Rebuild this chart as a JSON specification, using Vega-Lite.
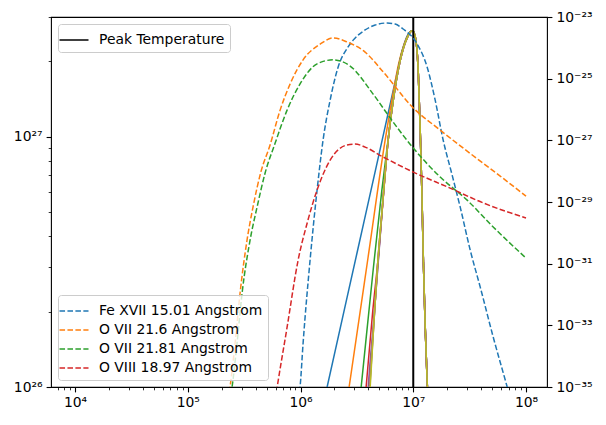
{
  "$schema": "https://vega.github.io/schema/vega-lite/v6.json",
  "width": 496,
  "height": 370,
  "autosize": {"type": "none"},
  "padding": {"left": 51, "top": 17, "right": 59, "bottom": 38},
  "background": "white",
  "config": {
    "view": {"stroke": "black", "strokeWidth": 1.1},
    "font": "DejaVu Sans",
    "axis": {"grid": false, "domain": false, "tickColor": "black", "labelColor": "black", "labelFont": "DejaVu Sans", "labelFontSize": 13.9, "labelPadding": 4, "title": null, "labelOverlap": false},
    "legend": {"labelFont": "DejaVu Sans", "labelFontSize": 13.9, "labelColor": "black", "labelLimit": 300, "strokeColor": "#cccccc", "fillColor": "rgba(255,255,255,0.8)", "cornerRadius": 3, "padding": 5, "offset": 7, "symbolType": "M-1.45,0L1.45,0", "symbolSize": 400, "symbolStrokeWidth": 1.5, "labelOffset": 14, "rowPadding": 1}
  },
  "datasets": {
    "dem": [
      {"c":"c1","T":1.585e6,"D":8.45e25},{"c":"c1","T":1.722e6,"D":1e26},{"c":"c1","T":3.162e6,"D":3.412e26},{"c":"c1","T":5.012e6,"D":8.65e26},{"c":"c1","T":6.310e6,"D":1.377e27},{"c":"c1","T":7.244e6,"D":1.820e27},{"c":"c1","T":8.128e6,"D":2.265e27},{"c":"c1","T":8.913e6,"D":2.541e27},
      {"c":"c1","T":9.772e6,"D":2.642e27},{"c":"c1","T":1.0e7,"D":2.630e27},{"c":"c1","T":1.0715e7,"D":2.291e27},{"c":"c1","T":1.109e7,"D":1.778e27},{"c":"c1","T":1.148e7,"D":1.122e27},{"c":"c1","T":1.189e7,"D":6.310e26},{"c":"c1","T":1.230e7,"D":3.162e26},{"c":"c1","T":1.274e7,"D":1.778e26},{"c":"c1","T":1.334e7,"D":1.0e26},{"c":"c1","T":1.396e7,"D":5.012e25},
      {"c":"c2","T":2.512e6,"D":8.04e25},{"c":"c2","T":2.698e6,"D":1e26},{"c":"c2","T":3.981e6,"D":3.311e26},{"c":"c2","T":5.623e6,"D":9.62e26},{"c":"c2","T":6.607e6,"D":1.479e27},{"c":"c2","T":7.413e6,"D":1.950e27},{"c":"c2","T":8.318e6,"D":2.344e27},{"c":"c2","T":9.120e6,"D":2.570e27},
      {"c":"c2","T":9.772e6,"D":2.642e27},{"c":"c2","T":1.0e7,"D":2.630e27},{"c":"c2","T":1.0715e7,"D":2.291e27},{"c":"c2","T":1.109e7,"D":1.778e27},{"c":"c2","T":1.148e7,"D":1.122e27},{"c":"c2","T":1.189e7,"D":6.310e26},{"c":"c2","T":1.230e7,"D":3.162e26},{"c":"c2","T":1.274e7,"D":1.778e26},{"c":"c2","T":1.334e7,"D":1.0e26},{"c":"c2","T":1.396e7,"D":5.012e25},
      {"c":"c3","T":3.273e6,"D":7.94e25},{"c":"c3","T":3.451e6,"D":1e26},{"c":"c3","T":4.406e6,"D":2.924e26},{"c":"c3","T":5.248e6,"D":6.026e26},{"c":"c3","T":6.026e6,"D":1e27},{"c":"c3","T":6.761e6,"D":1.479e27},{"c":"c3","T":7.586e6,"D":1.995e27},{"c":"c3","T":8.710e6,"D":2.455e27},
      {"c":"c3","T":9.772e6,"D":2.642e27},{"c":"c3","T":1.0e7,"D":2.630e27},{"c":"c3","T":1.0715e7,"D":2.291e27},{"c":"c3","T":1.109e7,"D":1.778e27},{"c":"c3","T":1.148e7,"D":1.122e27},{"c":"c3","T":1.189e7,"D":6.310e26},{"c":"c3","T":1.230e7,"D":3.162e26},{"c":"c3","T":1.274e7,"D":1.778e26},{"c":"c3","T":1.334e7,"D":1.0e26},{"c":"c3","T":1.396e7,"D":5.012e25},
      {"c":"c4","T":3.631e6,"D":7.76e25},{"c":"c4","T":3.819e6,"D":1e26},{"c":"c4","T":4.365e6,"D":1.995e26},{"c":"c4","T":4.898e6,"D":3.311e26},{"c":"c4","T":5.495e6,"D":6.166e26},{"c":"c4","T":5.984e6,"D":9.638e26},{"c":"c4","T":6.637e6,"D":1.390e27},{"c":"c4","T":7.656e6,"D":2.009e27},{"c":"c4","T":8.831e6,"D":2.477e27},
      {"c":"c4","T":9.772e6,"D":2.642e27},{"c":"c4","T":1.0e7,"D":2.630e27},{"c":"c4","T":1.0715e7,"D":2.291e27},{"c":"c4","T":1.109e7,"D":1.778e27},{"c":"c4","T":1.148e7,"D":1.122e27},{"c":"c4","T":1.189e7,"D":6.310e26},{"c":"c4","T":1.230e7,"D":3.162e26},{"c":"c4","T":1.274e7,"D":1.778e26},{"c":"c4","T":1.334e7,"D":1.0e26},{"c":"c4","T":1.396e7,"D":5.012e25},
      {"c":"c5","T":3.846e6,"D":7.76e25},{"c":"c5","T":3.981e6,"D":1e26},{"c":"c5","T":4.467e6,"D":1.862e26},{"c":"c5","T":4.898e6,"D":3.162e26},{"c":"c5","T":5.370e6,"D":5.495e26},{"c":"c5","T":5.984e6,"D":9.638e26},{"c":"c5","T":6.637e6,"D":1.390e27},{"c":"c5","T":7.656e6,"D":2.009e27},{"c":"c5","T":8.831e6,"D":2.477e27},
      {"c":"c5","T":9.772e6,"D":2.642e27},{"c":"c5","T":1.0e7,"D":2.630e27},{"c":"c5","T":1.0715e7,"D":2.291e27},{"c":"c5","T":1.109e7,"D":1.778e27},{"c":"c5","T":1.148e7,"D":1.122e27},{"c":"c5","T":1.189e7,"D":6.310e26},{"c":"c5","T":1.230e7,"D":3.162e26},{"c":"c5","T":1.274e7,"D":1.778e26},{"c":"c5","T":1.334e7,"D":1.0e26},{"c":"c5","T":1.396e7,"D":5.012e25},
      {"c":"c6","T":3.908e6,"D":7.76e25},{"c":"c6","T":4.046e6,"D":1e26},{"c":"c6","T":4.467e6,"D":1.820e26},{"c":"c6","T":4.842e6,"D":3.020e26},{"c":"c6","T":5.370e6,"D":5.495e26},{"c":"c6","T":5.984e6,"D":9.638e26},{"c":"c6","T":6.637e6,"D":1.390e27},{"c":"c6","T":7.656e6,"D":2.009e27},{"c":"c6","T":8.831e6,"D":2.477e27},
      {"c":"c6","T":9.772e6,"D":2.642e27},{"c":"c6","T":1.0e7,"D":2.630e27},{"c":"c6","T":1.0715e7,"D":2.291e27},{"c":"c6","T":1.109e7,"D":1.778e27},{"c":"c6","T":1.148e7,"D":1.122e27},{"c":"c6","T":1.189e7,"D":6.310e26},{"c":"c6","T":1.230e7,"D":3.162e26},{"c":"c6","T":1.274e7,"D":1.778e26},{"c":"c6","T":1.334e7,"D":1.0e26},{"c":"c6","T":1.396e7,"D":5.012e25},
      {"c":"c7","T":3.954e6,"D":7.76e25},{"c":"c7","T":4.093e6,"D":1e26},{"c":"c7","T":4.467e6,"D":1.778e26},{"c":"c7","T":4.786e6,"D":2.924e26},{"c":"c7","T":5.370e6,"D":5.495e26},{"c":"c7","T":5.984e6,"D":9.638e26},{"c":"c7","T":6.637e6,"D":1.390e27},{"c":"c7","T":7.656e6,"D":2.009e27},{"c":"c7","T":8.831e6,"D":2.477e27},
      {"c":"c7","T":9.772e6,"D":2.642e27},{"c":"c7","T":1.0e7,"D":2.630e27},{"c":"c7","T":1.0715e7,"D":2.291e27},{"c":"c7","T":1.109e7,"D":1.778e27},{"c":"c7","T":1.148e7,"D":1.122e27},{"c":"c7","T":1.189e7,"D":6.310e26},{"c":"c7","T":1.230e7,"D":3.162e26},{"c":"c7","T":1.274e7,"D":1.778e26},{"c":"c7","T":1.334e7,"D":1.0e26},{"c":"c7","T":1.396e7,"D":5.012e25},
      {"c":"c8","T":3.981e6,"D":7.76e25},{"c":"c8","T":4.121e6,"D":1e26},{"c":"c8","T":4.467e6,"D":1.778e26},{"c":"c8","T":4.786e6,"D":2.924e26},{"c":"c8","T":5.370e6,"D":5.495e26},{"c":"c8","T":5.984e6,"D":9.638e26},{"c":"c8","T":6.637e6,"D":1.390e27},{"c":"c8","T":7.656e6,"D":2.009e27},{"c":"c8","T":8.831e6,"D":2.477e27},
      {"c":"c8","T":9.772e6,"D":2.642e27},{"c":"c8","T":1.0e7,"D":2.630e27},{"c":"c8","T":1.0715e7,"D":2.291e27},{"c":"c8","T":1.109e7,"D":1.778e27},{"c":"c8","T":1.148e7,"D":1.122e27},{"c":"c8","T":1.189e7,"D":6.310e26},{"c":"c8","T":1.230e7,"D":3.162e26},{"c":"c8","T":1.274e7,"D":1.778e26},{"c":"c8","T":1.334e7,"D":1.0e26},{"c":"c8","T":1.396e7,"D":5.012e25},
      {"c":"c9","T":3.981e6,"D":7.33e25},{"c":"c9","T":4.150e6,"D":1e26},{"c":"c9","T":4.467e6,"D":1.778e26},{"c":"c9","T":4.786e6,"D":2.924e26},{"c":"c9","T":5.370e6,"D":5.495e26},{"c":"c9","T":5.984e6,"D":9.638e26},{"c":"c9","T":6.637e6,"D":1.390e27},{"c":"c9","T":7.656e6,"D":2.009e27},{"c":"c9","T":8.831e6,"D":2.477e27},
      {"c":"c9","T":9.772e6,"D":2.642e27},{"c":"c9","T":1.0e7,"D":2.630e27},{"c":"c9","T":1.0715e7,"D":2.291e27},{"c":"c9","T":1.109e7,"D":1.778e27},{"c":"c9","T":1.148e7,"D":1.122e27},{"c":"c9","T":1.189e7,"D":6.310e26},{"c":"c9","T":1.230e7,"D":3.162e26},{"c":"c9","T":1.274e7,"D":1.778e26},{"c":"c9","T":1.334e7,"D":1.0e26},{"c":"c9","T":1.396e7,"D":5.012e25}
    ],
    "dashed": [
      {"line":"Fe XVII 15.01 Angstrom","T":9.528e5,"G":3.80e-36},{"line":"Fe XVII 15.01 Angstrom","T":9.908e5,"G":1e-35},{"line":"Fe XVII 15.01 Angstrom","T":1.054e6,"G":2.630e-34},{"line":"Fe XVII 15.01 Angstrom","T":1.216e6,"G":1.318e-31},{"line":"Fe XVII 15.01 Angstrom","T":1.403e6,"G":2.455e-29},{"line":"Fe XVII 15.01 Angstrom","T":1.585e6,"G":1.023e-27},{"line":"Fe XVII 15.01 Angstrom","T":1.832e6,"G":2.042e-26},{"line":"Fe XVII 15.01 Angstrom","T":2.158e6,"G":2.399e-25},{"line":"Fe XVII 15.01 Angstrom","T":2.642e6,"G":1.072e-24},{"line":"Fe XVII 15.01 Angstrom","T":2.931e6,"G":1.778e-24},{"line":"Fe XVII 15.01 Angstrom","T":3.741e6,"G":3.802e-24},{"line":"Fe XVII 15.01 Angstrom","T":4.592e6,"G":5.495e-24},{"line":"Fe XVII 15.01 Angstrom","T":5.861e6,"G":6.383e-24},{"line":"Fe XVII 15.01 Angstrom","T":6.902e6,"G":5.929e-24},{"line":"Fe XVII 15.01 Angstrom","T":8.128e6,"G":4.074e-24},{"line":"Fe XVII 15.01 Angstrom","T":1.084e7,"G":1.330e-24},{"line":"Fe XVII 15.01 Angstrom","T":1.327e7,"G":2.399e-25},{"line":"Fe XVII 15.01 Angstrom","T":1.563e7,"G":2.042e-26},{"line":"Fe XVII 15.01 Angstrom","T":1.841e7,"G":1.023e-27},{"line":"Fe XVII 15.01 Angstrom","T":2.213e7,"G":7.413e-29},{"line":"Fe XVII 15.01 Angstrom","T":2.606e7,"G":6.918e-30},{"line":"Fe XVII 15.01 Angstrom","T":3.199e7,"G":2.754e-31},{"line":"Fe XVII 15.01 Angstrom","T":3.926e7,"G":1.738e-32},{"line":"Fe XVII 15.01 Angstrom","T":5.117e7,"G":4.169e-34},{"line":"Fe XVII 15.01 Angstrom","T":6.808e7,"G":1e-35},{"line":"Fe XVII 15.01 Angstrom","T":7.244e7,"G":4.365e-36},
      {"line":"O VII 21.6 Angstrom","T":2.280e5,"G":3.80e-36},{"line":"O VII 21.6 Angstrom","T":2.371e5,"G":1e-35},{"line":"O VII 21.6 Angstrom","T":2.630e5,"G":2.630e-34},{"line":"O VII 21.6 Angstrom","T":2.911e5,"G":1.122e-32},{"line":"O VII 21.6 Angstrom","T":3.357e5,"G":5.888e-31},{"line":"O VII 21.6 Angstrom","T":3.793e5,"G":6.918e-30},{"line":"O VII 21.6 Angstrom","T":4.426e5,"G":8.710e-29},{"line":"O VII 21.6 Angstrom","T":5.370e5,"G":7.079e-28},{"line":"O VII 21.6 Angstrom","T":6.592e5,"G":9.550e-27},{"line":"O VII 21.6 Angstrom","T":8.091e5,"G":6.761e-26},{"line":"O VII 21.6 Angstrom","T":1.054e6,"G":4.074e-25},{"line":"O VII 21.6 Angstrom","T":1.493e6,"G":1.318e-24},{"line":"O VII 21.6 Angstrom","T":1.945e6,"G":2.089e-24},{"line":"O VII 21.6 Angstrom","T":2.588e6,"G":1.549e-24},{"line":"O VII 21.6 Angstrom","T":3.741e6,"G":7.244e-25},{"line":"O VII 21.6 Angstrom","T":5.408e6,"G":1.660e-25},{"line":"O VII 21.6 Angstrom","T":1.0e7,"G":1.122e-26},{"line":"O VII 21.6 Angstrom","T":1.734e7,"G":2.138e-27},{"line":"O VII 21.6 Angstrom","T":3.006e7,"G":4.467e-28},{"line":"O VII 21.6 Angstrom","T":5.902e7,"G":6.918e-29},{"line":"O VII 21.6 Angstrom","T":1.0e8,"G":1.549e-29},
      {"line":"O VII 21.81 Angstrom","T":2.344e5,"G":3.162e-36},{"line":"O VII 21.81 Angstrom","T":2.472e5,"G":1e-35},{"line":"O VII 21.81 Angstrom","T":2.735e5,"G":2.630e-34},{"line":"O VII 21.81 Angstrom","T":3.034e5,"G":1.122e-32},{"line":"O VII 21.81 Angstrom","T":3.573e5,"G":5.888e-31},{"line":"O VII 21.81 Angstrom","T":4.121e5,"G":6.918e-30},{"line":"O VII 21.81 Angstrom","T":4.853e5,"G":8.710e-29},{"line":"O VII 21.81 Angstrom","T":5.957e5,"G":8.128e-28},{"line":"O VII 21.81 Angstrom","T":7.603e5,"G":9.550e-27},{"line":"O VII 21.81 Angstrom","T":9.908e5,"G":6.761e-26},{"line":"O VII 21.81 Angstrom","T":1.403e6,"G":3.020e-25},{"line":"O VII 21.81 Angstrom","T":1.945e6,"G":4.074e-25},{"line":"O VII 21.81 Angstrom","T":2.754e6,"G":2.570e-25},{"line":"O VII 21.81 Angstrom","T":4.406e6,"G":3.162e-26},{"line":"O VII 21.81 Angstrom","T":6.637e6,"G":3.890e-27},{"line":"O VII 21.81 Angstrom","T":1.0e7,"G":5.623e-28},{"line":"O VII 21.81 Angstrom","T":1.734e7,"G":6.457e-29},{"line":"O VII 21.81 Angstrom","T":3.006e7,"G":1.148e-29},{"line":"O VII 21.81 Angstrom","T":5.117e7,"G":1.549e-30},{"line":"O VII 21.81 Angstrom","T":1.0e8,"G":1.514e-31},
      {"line":"O VIII 18.97 Angstrom","T":5.957e5,"G":3.80e-36},{"line":"O VIII 18.97 Angstrom","T":6.209e5,"G":1e-35},{"line":"O VIII 18.97 Angstrom","T":7.603e5,"G":8.710e-34},{"line":"O VIII 18.97 Angstrom","T":9.528e5,"G":1.318e-31},{"line":"O VIII 18.97 Angstrom","T":1.146e6,"G":2.089e-30},{"line":"O VIII 18.97 Angstrom","T":1.403e6,"G":2.455e-29},{"line":"O VIII 18.97 Angstrom","T":1.832e6,"G":2.291e-28},{"line":"O VIII 18.97 Angstrom","T":2.588e6,"G":7.079e-28},{"line":"O VIII 18.97 Angstrom","T":3.048e6,"G":7.586e-28},{"line":"O VIII 18.97 Angstrom","T":3.741e6,"G":6.026e-28},{"line":"O VIII 18.97 Angstrom","T":5.408e6,"G":2.884e-28},{"line":"O VIII 18.97 Angstrom","T":1.0e7,"G":9.333e-29},{"line":"O VIII 18.97 Angstrom","T":2.123e7,"G":2.818e-29},{"line":"O VIII 18.97 Angstrom","T":4.169e7,"G":9.333e-30},{"line":"O VIII 18.97 Angstrom","T":1.0e8,"G":3.020e-30}
    ]
  },
  "encoding": {
    "x": {
      "field": "T", "type": "quantitative",
      "scale": {"type": "log", "domain": [6124, 153500000], "nice": false},
      "axis": {
        "orient": "bottom",
        "values": [7000,8000,9000,10000,20000,30000,40000,50000,60000,70000,80000,90000,100000,200000,300000,400000,500000,600000,700000,800000,900000,1000000,2000000,3000000,4000000,5000000,6000000,7000000,8000000,9000000,10000000,20000000,30000000,40000000,50000000,60000000,70000000,80000000,90000000,100000000],
        "labelExpr": "datum.value == 10000 ? '10⁴' : datum.value == 100000 ? '10⁵' : datum.value == 1000000 ? '10⁶' : datum.value == 10000000 ? '10⁷' : datum.value == 100000000 ? '10⁸' : ''",
        "tickSize": {"condition": {"test": "abs(log(datum.value)/LN10 - round(log(datum.value)/LN10)) < 0.000001", "value": 4.9}, "value": 2.8},
        "tickWidth": {"condition": {"test": "abs(log(datum.value)/LN10 - round(log(datum.value)/LN10)) < 0.000001", "value": 1.1}, "value": 0.8}
      }
    }
  },
  "layer": [
    {
      "data": {"name": "dem"},
      "mark": {"type": "line", "strokeWidth": 1.5, "clip": true, "interpolate": "monotone"},
      "encoding": {
        "y": {
          "field": "D", "type": "quantitative",
          "scale": {"type": "log", "domain": [1e26, 3e27], "nice": false},
          "axis": {
            "orient": "left",
            "values": [1e26,2e26,3e26,4e26,5e26,6e26,7e26,8e26,9e26,1e27,2e27,3e27],
            "labelExpr": "datum.value == 1e26 ? '10²⁶' : datum.value == 1e27 ? '10²⁷' : ''",
            "tickSize": {"condition": {"test": "abs(log(datum.value)/LN10 - round(log(datum.value)/LN10)) < 0.000001", "value": 4.9}, "value": 2.8},
            "tickWidth": {"condition": {"test": "abs(log(datum.value)/LN10 - round(log(datum.value)/LN10)) < 0.000001", "value": 1.1}, "value": 0.8}
          }
        },
        "color": {
          "field": "c", "type": "nominal",
          "scale": {"domain": ["c1","c2","c3","c4","c5","c6","c7","c8","c9"], "range": ["#1f77b4","#ff7f0e","#2ca02c","#d62728","#9467bd","#8c564b","#e377c2","#7f7f7f","#bcbd22"]},
          "legend": null
        }
      }
    },
    {
      "data": {"values": [{"T": 10000000, "name": "Peak Temperature"}]},
      "mark": {"type": "rule", "strokeWidth": 2},
      "encoding": {
        "color": {
          "field": "name", "type": "nominal",
          "scale": {"domain": ["Peak Temperature"], "range": ["black"]},
          "legend": {"orient": "top-left", "title": null, "symbolStrokeWidth": 1.5}
        }
      }
    },
    {
      "data": {"name": "dashed"},
      "mark": {"type": "line", "strokeWidth": 1.5, "strokeDash": [5.55, 2.4], "clip": true, "interpolate": "monotone"},
      "encoding": {
        "y": {
          "field": "G", "type": "quantitative",
          "scale": {"type": "log", "domain": [1e-35, 1e-23], "nice": false},
          "axis": {
            "orient": "right",
            "values": [1e-35,1e-33,1e-31,1e-29,1e-27,1e-25,1e-23],
            "labelExpr": "datum.value == 1e-23 ? '10⁻²³' : datum.value == 1e-25 ? '10⁻²⁵' : datum.value == 1e-27 ? '10⁻²⁷' : datum.value == 1e-29 ? '10⁻²⁹' : datum.value == 1e-31 ? '10⁻³¹' : datum.value == 1e-33 ? '10⁻³³' : datum.value == 1e-35 ? '10⁻³⁵' : ''",
            "tickSize": 4.9,
            "tickWidth": 1.1
          }
        },
        "color": {
          "field": "line", "type": "nominal",
          "scale": {"domain": ["Fe XVII 15.01 Angstrom","O VII 21.6 Angstrom","O VII 21.81 Angstrom","O VIII 18.97 Angstrom"], "range": ["#1f77b4","#ff7f0e","#2ca02c","#d62728"]},
          "legend": {"orient": "bottom-left", "title": null, "symbolDash": [5.55, 2.4]}
        }
      }
    }
  ],
  "resolve": {"scale": {"y": "independent", "color": "independent"}, "axis": {"y": "independent"}, "legend": {"color": "independent"}}
}
